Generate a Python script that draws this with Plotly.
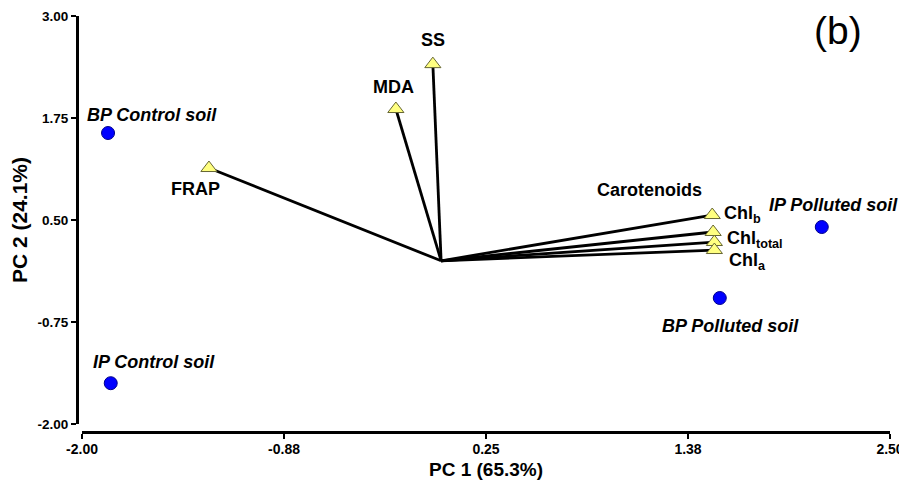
import plotly.graph_objects as go

# ---- data ----
sample_names = ["BP Control soil", "IP Control soil", "IP Polluted soil", "BP Polluted soil"]
sample_pc1 = [-1.855, -1.84, 2.12, 1.552]
sample_pc2 = [1.566, -1.50, 0.414, -0.456]

var_names = ["SS", "MDA", "FRAP", "Carotenoids", "Chl<sub>b</sub>", "Chl<sub>total</sub>", "Chl<sub>a</sub>"]
var_pc1 = [-0.046, -0.252, -1.293, 1.51, 1.515, 1.522, 1.522]
var_pc2 = [2.41, 1.86, 1.137, 0.561, 0.353, 0.23, 0.132]

x_ticks = [-2.0, -0.875, 0.25, 1.375, 2.5]
x_tick_labels = ["-2.00", "-0.88", "0.25", "1.38", "2.50"]
y_ticks = [-2.0, -0.75, 0.5, 1.75, 3.0]
y_tick_labels = ["-2.00", "-0.75", "0.50", "1.75", "3.00"]

# ---- styles ----
FONT = "Liberation Sans, Arial, sans-serif"
sample_label_shift = {  # (xshift, yshift, xanchor)
    "BP Control soil": (44, 18, "center"),
    "IP Control soil": (43, 21, "center"),
    "IP Polluted soil": (12, 22, "center"),
    "BP Polluted soil": (11, -28, "center"),
}
var_label_shift = {
    "SS": (0, 24, "center"),
    "MDA": (-2, 22, "center"),
    "FRAP": (-13, -21, "center"),
    "Carotenoids": (-63, 25, "center"),
    "Chl<sub>b</sub>": (9, 18, "left"),
    "Chl<sub>total</sub>": (11, 3, "left"),
    "Chl<sub>a</sub>": (13, -11, "left"),
}

fig = go.Figure()

# vectors
lx, ly = [], []
for vx, vy in zip(var_pc1, var_pc2):
    lx += [0, vx, None]
    ly += [0, vy, None]
fig.add_trace(go.Scatter(x=lx, y=ly, mode="lines",
                         line=dict(color="black", width=2.8),
                         hoverinfo="skip", showlegend=False))

# variable triangles
fig.add_trace(go.Scatter(x=var_pc1, y=var_pc2, mode="markers",
                         marker=dict(symbol="triangle-up", size=14, color="#FFFF80",
                                     line=dict(color="#666633", width=1)),
                         showlegend=False, text=var_names, hoverinfo="text"))

# sample points
fig.add_trace(go.Scatter(x=sample_pc1, y=sample_pc2, mode="markers",
                         marker=dict(symbol="circle", size=13, color="#0000FF",
                                     line=dict(color="#00008B", width=1)),
                         showlegend=False, text=sample_names, hoverinfo="text"))

annotations = []
for n, x, y in zip(sample_names, sample_pc1, sample_pc2):
    dx, dy, xa = sample_label_shift[n]
    annotations.append(dict(x=x, y=y, xref="x", yref="y", text="<b><i>%s</i></b>" % n,
                            showarrow=False, xshift=dx, yshift=dy, xanchor=xa,
                            font=dict(family=FONT, size=18, color="black")))
for n, x, y in zip(var_names, var_pc1, var_pc2):
    dx, dy, xa = var_label_shift[n]
    annotations.append(dict(x=x, y=y, xref="x", yref="y", text="<b>%s</b>" % n,
                            showarrow=False, xshift=dx, yshift=dy, xanchor=xa,
                            font=dict(family=FONT, size=18, color="black")))
annotations.append(dict(x=0.936, y=0.966, xref="paper", yref="paper", text="(b)",
                        showarrow=False, xanchor="center", yanchor="middle",
                        font=dict(family=FONT, size=39, color="black")))

# page body has an 8px margin, so the figure is sized to the visible area
fig.update_layout(
    width=899, height=481,
    margin=dict(l=69, r=17, t=8, b=57, autoexpand=False),
    paper_bgcolor="white", plot_bgcolor="white",
    showlegend=False,
    annotations=annotations,
    xaxis=dict(range=[-2.0, 2.5], domain=[5 / 813, 1], anchor="free", position=0,
               automargin=False,
               showline=True, linecolor="black", linewidth=3, mirror=False,
               showgrid=False, zeroline=False,
               ticks="outside", ticklen=5, tickwidth=2, tickcolor="black",
               ticklabelstandoff=-2,
               tickmode="array", tickvals=x_ticks, ticktext=x_tick_labels,
               tickfont=dict(family=FONT, size=14, color="black", weight="bold"),
               title=dict(text="<b>PC 1 (65.3%)</b>", standoff=6,
                          font=dict(family=FONT, size=19, color="black"))),
    yaxis=dict(range=[-2.0, 3.0], domain=[8 / 416, 1], anchor="free", position=0,
               automargin=False,
               showline=True, linecolor="black", linewidth=3, mirror=False,
               showgrid=False, zeroline=False,
               ticks="outside", ticklen=5, tickwidth=2, tickcolor="black",
               tickmode="array", tickvals=y_ticks, ticktext=y_tick_labels,
               tickfont=dict(family=FONT, size=13.5, color="black", weight="bold"),
               title=dict(text="<b>PC 2 (24.1%)</b>", standoff=4,
                          font=dict(family=FONT, size=21, color="black"))),
)

fig.write_html("out.html")
